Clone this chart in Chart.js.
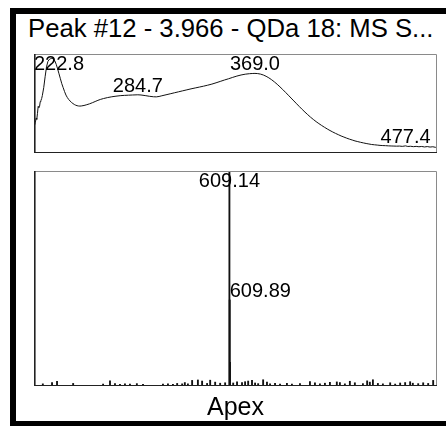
<!DOCTYPE html>
<html>
<head>
<meta charset="utf-8">
<script src="https://cdn.jsdelivr.net/npm/chart.js@4.4.1/dist/chart.umd.min.js"></script>
<style>
  html, body { margin: 0; padding: 0; background: #fff; }
  body { position: relative; width: 446px; height: 426px; overflow: hidden; }
  .bar { position: absolute; background: #000; }
  #barTop { left: 10px; top: 8px; width: 436px; height: 6px; }
  #barLeft { left: 10px; top: 8px; width: 6px; height: 418px; }
  #barBottom { left: 10px; top: 421px; width: 436px; height: 5px; }
  canvas { position: absolute; left: 0; top: 0; }
  .caption { position: absolute; font-family: "Liberation Sans", Arial, sans-serif;
             color: #000; white-space: nowrap; line-height: 26px; }
  #title { left: 28px; top: 15px; font-size: 25.7px; }
  #apex { left: 0; width: 471px; top: 393px; font-size: 25px; text-align: center; }
</style>
</head>
<body>
<div class="bar" id="barTop"></div>
<div class="bar" id="barLeft"></div>
<div class="bar" id="barBottom"></div>
<div class="caption" id="title">Peak #12 - 3.966 - QDa 18: MS S...</div>
<canvas id="uv" width="446" height="426"></canvas>
<canvas id="ms" width="446" height="426"></canvas>
<div class="caption" id="apex">Apex</div>
<script>
// UV absorbance spectrum (nm, relative absorbance)
const uvWavelengths = [
  210, 211, 211.5, 212, 212.5, 213, 213.5, 214, 214.5, 215, 215.5, 216, 217, 218, 219, 220, 221, 222, 222.8,
  224, 225, 226, 227, 228, 229, 230, 231, 232, 233, 234, 235, 236, 237, 238, 239, 240, 241, 242, 243, 244,
  246, 248, 250, 252, 254, 256, 258, 260, 263, 266, 269, 272, 275, 278, 281, 284.7, 287, 290, 293, 296,
  298, 300, 302, 305, 308, 311, 314, 317, 320, 323, 326, 329, 332, 335, 338, 341, 344, 347, 350, 353,
  356, 359, 362, 365, 367, 369.0, 371, 373, 375, 377, 379, 381, 383, 385, 387, 389, 391, 393, 395, 397,
  399, 401, 403, 405, 407, 409, 411, 413, 415, 417, 419, 421, 423, 425, 427, 429, 431, 433, 435, 437,
  439, 441, 443, 445, 447, 449, 451, 453, 455, 457, 459, 461, 463, 465, 467, 469, 471, 473, 475, 477.4,
  479, 481, 483, 485, 487, 489, 491, 493, 495, 497, 499, 500
];
const uvAbsorbance = [
  26, 31, 35, 34, 40, 47, 46, 47, 52, 53, 55, 58, 66, 77, 87, 92.5, 94.5, 95.3, 95.6,
  95, 93, 89.5, 85, 80, 75, 70, 66, 62, 58.5, 56, 54, 52.5, 51, 50, 49, 48.3, 47.8, 47.5, 47.4, 47.5,
  48, 48.8, 49.7, 50.8, 52, 53.2, 54.2, 55, 56, 56.8, 57.4, 57.9, 58.2, 58.4, 58.6, 58.8, 58.6, 58, 57.3, 56.8,
  56.7, 57.1, 57.8, 58.8, 59.8, 60.8, 61.8, 62.8, 63.8, 64.8, 65.7, 66.6, 67.5, 68.5, 69.6, 70.9, 72.3, 73.7, 75, 76.4,
  77.7, 78.8, 79.6, 80.1, 80.3, 80.4, 80.2, 79.7, 78.8, 77.5, 75.9, 74, 71.8, 69.4, 66.8, 64.1, 61.3, 58.4, 55.5, 52.6,
  49.7, 46.8, 44, 41.3, 38.7, 36.2, 33.9, 31.7, 29.7, 27.8, 26, 24.3, 22.7, 21.2, 19.8, 18.5, 17.2, 16.1, 15, 14,
  13.1, 12.2, 11.5, 10.8, 10.2, 9.6, 9.1, 8.6, 8.3, 8, 7.7, 7.5, 7.4, 7.2, 7.1, 7.0, 6.9, 7.0, 6.7, 7.2,
  6.6, 6.8, 6.4, 6.7, 6.3, 6.6, 6.1, 6.5, 6.0, 6.3, 5.7, 5.6
];
const uvPeaks = [222.8, 284.7, 369.0, 477.4];

// Mass spectrum at the apex (m/z, relative intensity %)
const msMz = [
  123, 147, 160, 202, 280, 298, 311, 324, 337, 350, 368, 384, 436, 449, 462, 473, 486, 493, 501, 512,
  527, 538, 551, 559, 572, 585, 598, 609.14, 609.89, 610.64, 619, 629, 642, 650, 658, 668, 676, 684, 697, 707,
  715, 728, 741, 759, 772, 793, 819, 832, 845, 858, 871, 889, 897, 910, 923, 936, 957, 968, 975, 983,
  996, 1009, 1028, 1041, 1054, 1067, 1080, 1087, 1101, 1114, 1127, 1140
];
const msIntensity = [
  1.0, 1.6, 2.2, 1.2, 0.9, 2.4, 1.1, 0.8, 1.0, 0.9, 1.1, 0.8, 0.9, 1.0, 0.8, 1.2, 1.0, 1.6, 1.0, 2.6,
  2.8, 2.3, 1.2, 2.7, 1.8, 1.3, 1.5, 100, 40, 11, 1.4, 1.9, 1.6, 2.0, 2.3, 2.6, 1.4, 1.1, 2.9, 1.8,
  1.0, 1.2, 0.9, 1.3, 0.9, 1.1, 2.0, 1.5, 1.0, 1.3, 1.7, 1.9, 1.6, 1.0, 2.2, 1.5, 1.1, 2.4, 1.8, 2.9,
  1.2, 1.0, 1.5, 0.9, 1.4, 1.6, 2.0, 1.3, 1.1, 1.5, 1.2, 2.6
];
const msPeaks = [609.14, 609.89];

const LABEL_FONT = '20px "Liberation Sans", Arial, sans-serif';

// Box around each panel: dark axis edges (left, bottom), grey frame edges (top, right)
const panelFrame = {
  id: 'panelFrame',
  afterDraw(chart) {
    const { ctx, chartArea: a } = chart;
    ctx.save();
    ctx.lineWidth = 1;
    ctx.strokeStyle = '#8a8a8a';
    ctx.beginPath();
    ctx.moveTo(a.left, a.top + 0.5);
    ctx.lineTo(a.right - 0.5, a.top + 0.5);
    ctx.lineTo(a.right - 0.5, a.bottom);
    ctx.stroke();
    ctx.strokeStyle = '#222';
    ctx.beginPath();
    ctx.moveTo(a.right, a.bottom - 0.5);
    ctx.lineTo(a.left + 0.5, a.bottom - 0.5);
    ctx.stroke();
    ctx.lineWidth = 1.6;
    ctx.beginPath();
    ctx.moveTo(a.left + 0.8, a.bottom);
    ctx.lineTo(a.left + 0.8, a.top);
    ctx.stroke();
    ctx.restore();
  }
};

// Value labels above picked peaks
const peakLabels = {
  id: 'peakLabels',
  afterDatasetsDraw(chart, args, opts) {
    const { ctx, chartArea: a, scales: { x, y } } = chart;
    const pts = chart.data.datasets[0].data;
    ctx.save();
    ctx.font = LABEL_FONT;
    ctx.fillStyle = '#000';
    ctx.textBaseline = 'alphabetic';
    opts.values.forEach(v => {
      const p = pts.find(d => d.x === v);
      const px = x.getPixelForValue(v);
      const py = y.getPixelForValue(p.y);
      const text = v.toFixed(opts.decimals);
      const w = ctx.measureText(text).width;
      // a taller stick at the same spot pushes the label to its right side
      const blocked = opts.sticks && pts.some(d => d.y > p.y && Math.abs(x.getPixelForValue(d.x) - px) < w / 2);
      let left = blocked ? px : px - w / 2;
      left = Math.max(a.left, Math.min(left, a.right - w));
      const base = Math.max(py - 3, a.top + 16);
      ctx.fillText(text, left, base);
    });
    ctx.restore();
  }
};

const hidden = { display: false };

new Chart(document.getElementById('uv'), {
  type: 'line',
  data: {
    datasets: [{
      data: uvWavelengths.map((w, i) => ({ x: w, y: uvAbsorbance[i] })),
      borderColor: '#111',
      borderWidth: 1,
      pointRadius: 0,
      tension: 0,
      fill: false
    }]
  },
  options: {
    responsive: false,
    devicePixelRatio: 1,
    animation: false,
    events: [],
    layout: { padding: { left: 34, top: 54, right: 9, bottom: 273 } },
    scales: {
      x: { type: 'linear', min: 210, max: 500, ...hidden },
      y: { min: 0, max: 100, ...hidden }
    },
    plugins: {
      legend: hidden, tooltip: { enabled: false },
      peakLabels: { values: uvPeaks, decimals: 1, sticks: false }
    }
  },
  plugins: [panelFrame, peakLabels]
});

new Chart(document.getElementById('ms'), {
  type: 'bar',
  data: {
    datasets: [{
      data: msMz.map((m, i) => ({ x: m, y: msIntensity[i] })),
      backgroundColor: '#111',
      borderWidth: 0,
      barThickness: 1.2,
      grouped: false
    }]
  },
  options: {
    responsive: false,
    devicePixelRatio: 1,
    animation: false,
    events: [],
    layout: { padding: { left: 34, top: 171, right: 9, bottom: 40 } },
    scales: {
      x: { type: 'linear', min: 100, max: 1150, offset: false, ...hidden },
      y: { min: 0, max: 100, ...hidden }
    },
    plugins: {
      legend: hidden, tooltip: { enabled: false },
      peakLabels: { values: msPeaks, decimals: 2, sticks: true }
    }
  },
  plugins: [panelFrame, peakLabels]
});
</script>
</body>
</html>
